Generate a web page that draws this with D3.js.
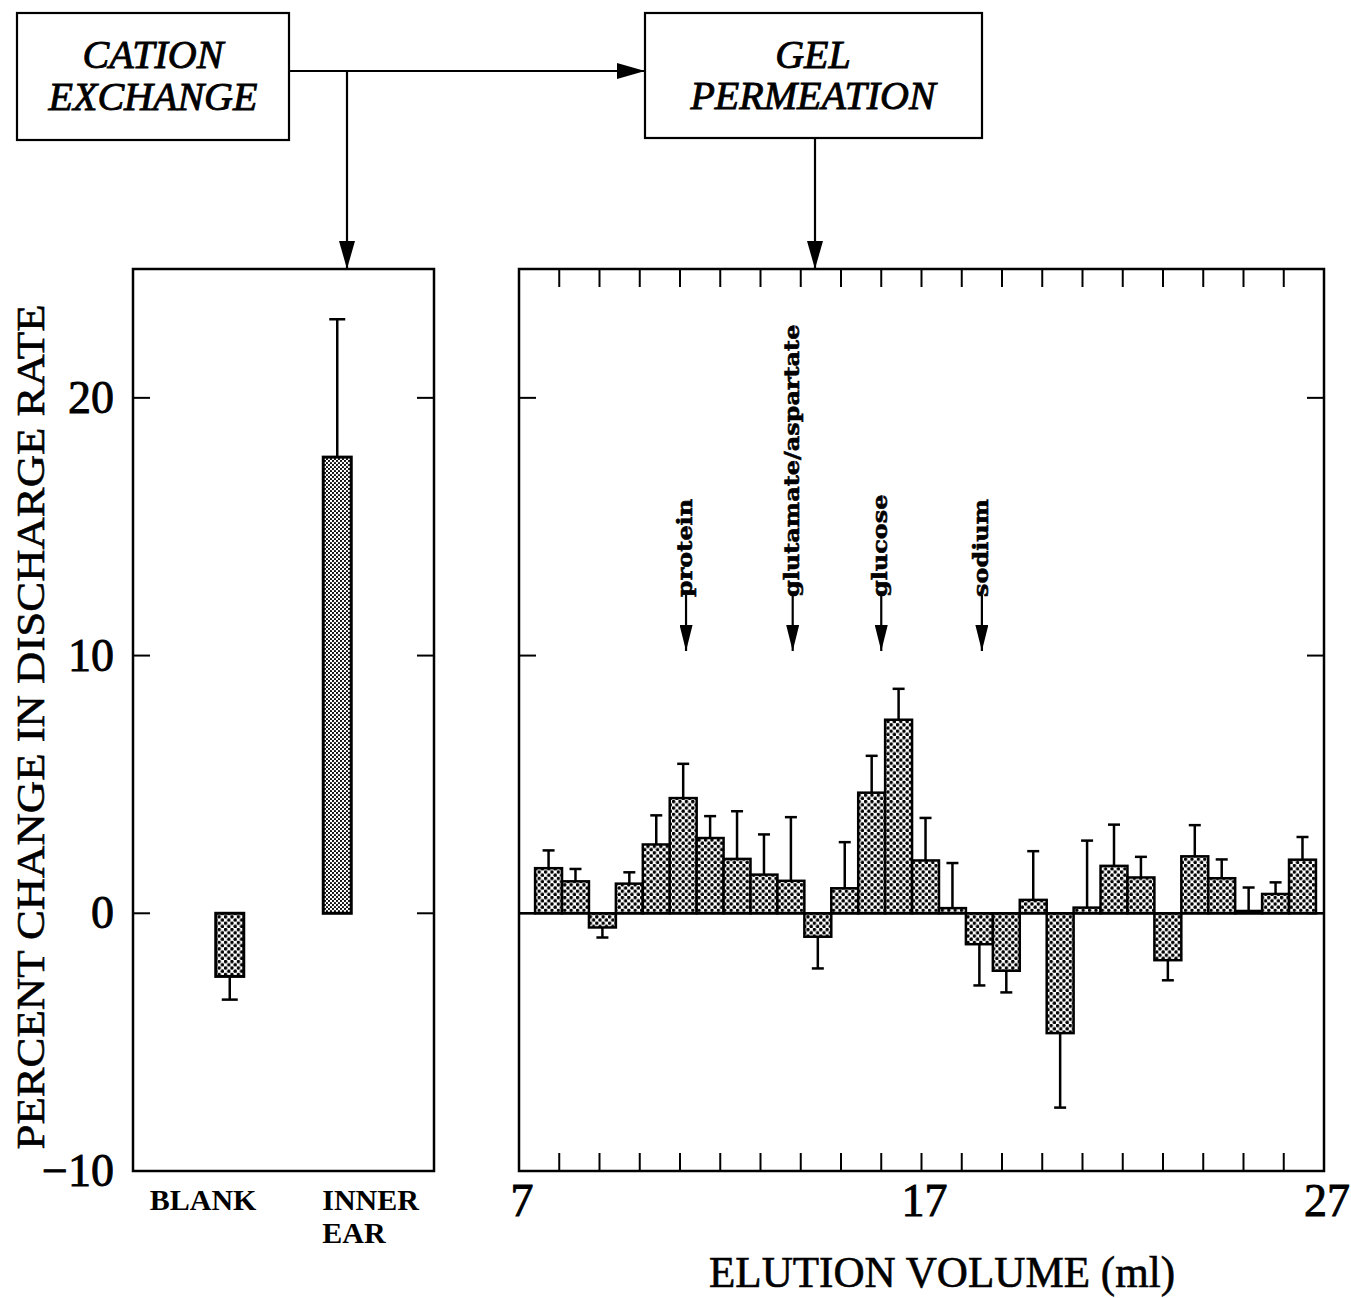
<!DOCTYPE html>
<html>
<head>
<meta charset="utf-8">
<script src="https://cdn.jsdelivr.net/npm/d3@7"></script>
<style>
  body { margin: 0; background: #fff; }
</style>
</head>
<body>
<div id="chart"></div>
<script>
// cation exchange panel
const groups = ["BLANK", "INNER EAR"];
const groupMeans = [-2.45, 17.7];
const groupErrors = [0.9, 5.35];

// gel permeation fractions (0.67 ml each)
const fractions = d3.range(1, 30);
const fractionMeans = [1.75, 1.24, -0.55, 1.15, 2.67, 4.47, 2.92, 2.11, 1.5, 1.26,
  -0.91, 0.97, 4.68, 7.51, 2.05, 0.2, -1.2, -2.23, 0.52, -4.65,
  0.22, 1.84, 1.39, -1.82, 2.21, 1.36, 0.09, 0.75, 2.08];
const fractionErrors = [0.69, 0.48, 0.39, 0.44, 1.13, 1.33, 0.85, 1.85, 1.56, 2.47,
  1.23, 1.79, 1.43, 1.2, 1.65, 1.75, 1.6, 0.84, 1.89, 2.89,
  2.6, 1.6, 0.8, 0.78, 1.21, 0.73, 0.91, 0.45, 0.88];
const firstVolume = 7.4;
const lastVolume = 26.8;

// elution markers
const markers = ["protein", "glutamate/aspartate", "glucose", "sodium"];
const markerVolumes = [11.15, 13.8, 16.0, 18.5];

const yTicks = [20, 10, 0, -10];
const xTickLabels = [7, 17, 27];
const volumeTicks = d3.range(8, 27);

const width = 1351;
const height = 1298;
const plotTop = 269, plotBottom = 1171;

const svg = d3.select("#chart")
    .append("svg")
    .attr("width", width)
    .attr("height", height);

const defs = svg.append("defs");

// dotted fills
const coarse = defs.append("pattern")
    .attr("id", "dots")
    .attr("patternUnits", "userSpaceOnUse")
    .attr("width", 6.4).attr("height", 6.4);
coarse.append("rect").attr("width", 6.4).attr("height", 6.4).attr("fill", "#fff");
coarse.append("circle").attr("cx", 1.6).attr("cy", 1.6).attr("r", 1.75);
coarse.append("circle").attr("cx", 4.8).attr("cy", 4.8).attr("r", 1.75);

const fine = defs.append("pattern")
    .attr("id", "dotsFine")
    .attr("patternUnits", "userSpaceOnUse")
    .attr("width", 4).attr("height", 4);
fine.append("rect").attr("width", 4).attr("height", 4).attr("fill", "#fff");
fine.append("circle").attr("cx", 1).attr("cy", 1).attr("r", 1.1);
fine.append("circle").attr("cx", 3).attr("cy", 3).attr("r", 1.1);

function arrowMarker(id, len, w) {
    defs.append("marker")
        .attr("id", id)
        .attr("markerUnits", "userSpaceOnUse")
        .attr("markerWidth", len)
        .attr("markerHeight", w)
        .attr("refX", len)
        .attr("refY", w / 2)
        .attr("orient", "auto")
        .append("path")
        .attr("d", `M0,0L${len},${w / 2}L0,${w}Z`)
        .attr("fill", "#000");
}
arrowMarker("arrow", 28, 16);
arrowMarker("arrowSmall", 26, 13);

// scales
const y = d3.scaleLinear().domain([-10, 25]).range([plotBottom, plotTop]);

const leftX0 = 133, leftX1 = 434;
const xCat = d3.scalePoint().domain(groups).range([leftX0, leftX1]).padding(0.9);

const rightX0 = 519, rightX1 = 1324;
const x = d3.scaleLinear().domain([7, 27]).range([rightX0, rightX1]);
const xFrac = d3.scaleBand()
    .domain(fractions)
    .range([x(firstVolume), x(lastVolume)])
    .padding(0);

const serif = "'Liberation Serif', 'Times New Roman', serif";

// ---- flow boxes ----
const boxes = svg.append("g")
    .attr("font-family", serif)
    .attr("font-style", "italic")
    .attr("font-size", 40)
    .attr("text-anchor", "middle")
    .attr("stroke-width", 0.9);

boxes.append("rect").attr("x", 17).attr("y", 13).attr("width", 272).attr("height", 127)
    .attr("fill", "none").attr("stroke", "#000").attr("stroke-width", 2.2);
boxes.append("text").attr("x", 153).attr("y", 68).attr("stroke", "#000").text("CATION");
boxes.append("text").attr("x", 153).attr("y", 110).attr("stroke", "#000").text("EXCHANGE");

boxes.append("rect").attr("x", 645).attr("y", 13).attr("width", 337).attr("height", 125)
    .attr("fill", "none").attr("stroke", "#000").attr("stroke-width", 2.2);
boxes.append("text").attr("x", 813).attr("y", 68).attr("stroke", "#000").text("GEL");
boxes.append("text").attr("x", 813).attr("y", 109).attr("stroke", "#000").text("PERMEATION");

const flow = svg.append("g").attr("stroke", "#000").attr("stroke-width", 2.2).attr("fill", "none");
flow.append("line").attr("x1", 289).attr("y1", 71).attr("x2", 645).attr("y2", 71)
    .attr("marker-end", "url(#arrow)");
flow.append("line").attr("x1", 347).attr("y1", 71).attr("x2", 347).attr("y2", plotTop)
    .attr("marker-end", "url(#arrow)");
flow.append("line").attr("x1", 815).attr("y1", 138).attr("x2", 815).attr("y2", plotTop)
    .attr("marker-end", "url(#arrow)");

// ---- left panel ----
const left = svg.append("g");

left.append("rect")
    .attr("x", leftX0).attr("y", plotTop)
    .attr("width", leftX1 - leftX0).attr("height", plotBottom - plotTop)
    .attr("fill", "none").attr("stroke", "#000").attr("stroke-width", 2.5);

left.append("g").selectAll("line")
    .data(yTicks.filter(d => d > -10))
    .join("line")
    .attr("x1", leftX0).attr("x2", leftX0 + 17)
    .attr("y1", d => y(d)).attr("y2", d => y(d))
    .attr("stroke", "#000").attr("stroke-width", 2);
left.append("g").selectAll("line")
    .data(yTicks.filter(d => d > -10))
    .join("line")
    .attr("x1", leftX1 - 17).attr("x2", leftX1)
    .attr("y1", d => y(d)).attr("y2", d => y(d))
    .attr("stroke", "#000").attr("stroke-width", 2);

left.append("g")
    .attr("font-family", serif)
    .attr("font-size", 46)
    .attr("text-anchor", "end")
    .attr("stroke", "#000")
    .attr("stroke-width", 0.9)
    .selectAll("text")
    .data(yTicks)
    .join("text")
    .attr("x", 114)
    .attr("y", d => y(d) + 15)
    .text(d => d < 0 ? "\u2212" + Math.abs(d) : d);

const groupData = groups.map((g, i) => ({ g, mean: groupMeans[i], err: groupErrors[i] }));
const barW = 28;

left.append("g").selectAll("line")
    .data(groupData)
    .join("line")
    .attr("x1", d => xCat(d.g)).attr("x2", d => xCat(d.g))
    .attr("y1", d => y(d.mean))
    .attr("y2", d => y(d.mean + Math.sign(d.mean) * d.err))
    .attr("stroke", "#000").attr("stroke-width", 2.5);
left.append("g").selectAll("line")
    .data(groupData)
    .join("line")
    .attr("x1", d => xCat(d.g) - 8).attr("x2", d => xCat(d.g) + 8)
    .attr("y1", d => y(d.mean + Math.sign(d.mean) * d.err))
    .attr("y2", d => y(d.mean + Math.sign(d.mean) * d.err))
    .attr("stroke", "#000").attr("stroke-width", 2.5);

left.append("g").selectAll("rect")
    .data(groupData)
    .join("rect")
    .attr("x", d => xCat(d.g) - barW / 2)
    .attr("width", barW)
    .attr("y", d => y(Math.max(0, d.mean)))
    .attr("height", d => Math.abs(y(d.mean) - y(0)))
    .attr("fill", (d, i) => i === 0 ? "url(#dots)" : "url(#dotsFine)")
    .attr("stroke", "#000").attr("stroke-width", 3);

const catLabels = left.append("g")
    .attr("font-family", serif)
    .attr("font-weight", "bold")
    .attr("font-size", 30);
catLabels.append("text").attr("x", xCat("BLANK") - 80).attr("y", 1210).text("BLANK");
catLabels.append("text").attr("x", xCat("INNER EAR") - 15).attr("y", 1210).text("INNER");
catLabels.append("text").attr("x", xCat("INNER EAR") - 15).attr("y", 1243).text("EAR");

svg.append("text")
    .attr("transform", "translate(44,727) rotate(-90)")
    .attr("text-anchor", "middle")
    .attr("font-family", serif)
    .attr("font-size", 41)
    .attr("stroke", "#000")
    .attr("stroke-width", 0.6)
    .attr("textLength", 845)
    .attr("lengthAdjust", "spacingAndGlyphs")
    .text("PERCENT CHANGE IN DISCHARGE RATE");

// ---- right panel ----
const right = svg.append("g");

right.append("rect")
    .attr("x", rightX0).attr("y", plotTop)
    .attr("width", rightX1 - rightX0).attr("height", plotBottom - plotTop)
    .attr("fill", "none").attr("stroke", "#000").attr("stroke-width", 2.5);

right.append("g").selectAll("line")
    .data(volumeTicks)
    .join("line")
    .attr("x1", d => x(d)).attr("x2", d => x(d))
    .attr("y1", plotTop).attr("y2", plotTop + 18)
    .attr("stroke", "#000").attr("stroke-width", 2);
right.append("g").selectAll("line")
    .data(volumeTicks)
    .join("line")
    .attr("x1", d => x(d)).attr("x2", d => x(d))
    .attr("y1", plotBottom - 18).attr("y2", plotBottom)
    .attr("stroke", "#000").attr("stroke-width", 2);
right.append("g").selectAll("line")
    .data(yTicks.filter(d => d > -10))
    .join("line")
    .attr("x1", rightX0).attr("x2", rightX0 + 17)
    .attr("y1", d => y(d)).attr("y2", d => y(d))
    .attr("stroke", "#000").attr("stroke-width", 2);
right.append("g").selectAll("line")
    .data(yTicks.filter(d => d > -10))
    .join("line")
    .attr("x1", rightX1 - 17).attr("x2", rightX1)
    .attr("y1", d => y(d)).attr("y2", d => y(d))
    .attr("stroke", "#000").attr("stroke-width", 2);

right.append("g")
    .attr("font-family", serif)
    .attr("font-size", 46)
    .attr("text-anchor", "middle")
    .attr("stroke", "#000")
    .attr("stroke-width", 0.9)
    .selectAll("text")
    .data(xTickLabels)
    .join("text")
    .attr("x", d => x(d) + 3)
    .attr("y", 1216)
    .text(d => d);

svg.append("text")
    .attr("x", 942).attr("y", 1287)
    .attr("text-anchor", "middle")
    .attr("font-family", serif)
    .attr("font-size", 44)
    .attr("stroke", "#000")
    .attr("stroke-width", 0.6)
    .attr("textLength", 466)
    .attr("lengthAdjust", "spacingAndGlyphs")
    .text("ELUTION VOLUME (ml)");

const fracData = fractions.map((f, i) => ({ f, mean: fractionMeans[i], err: fractionErrors[i] }));

right.append("g").selectAll("line")
    .data(fracData)
    .join("line")
    .attr("x1", d => xFrac(d.f) + xFrac.bandwidth() / 2)
    .attr("x2", d => xFrac(d.f) + xFrac.bandwidth() / 2)
    .attr("y1", d => y(d.mean))
    .attr("y2", d => y(d.mean + (d.mean < 0 ? -1 : 1) * d.err))
    .attr("stroke", "#000").attr("stroke-width", 2.5);
right.append("g").selectAll("line")
    .data(fracData)
    .join("line")
    .attr("x1", d => xFrac(d.f) + xFrac.bandwidth() / 2 - 6)
    .attr("x2", d => xFrac(d.f) + xFrac.bandwidth() / 2 + 6)
    .attr("y1", d => y(d.mean + (d.mean < 0 ? -1 : 1) * d.err))
    .attr("y2", d => y(d.mean + (d.mean < 0 ? -1 : 1) * d.err))
    .attr("stroke", "#000").attr("stroke-width", 2.5);

right.append("g").selectAll("rect")
    .data(fracData)
    .join("rect")
    .attr("x", d => xFrac(d.f))
    .attr("width", xFrac.bandwidth())
    .attr("y", d => y(Math.max(0, d.mean)))
    .attr("height", d => Math.abs(y(d.mean) - y(0)))
    .attr("fill", "url(#dots)")
    .attr("stroke", "#000").attr("stroke-width", 2.5);

right.append("line")
    .attr("x1", rightX0).attr("x2", rightX1)
    .attr("y1", y(0)).attr("y2", y(0))
    .attr("stroke", "#000").attr("stroke-width", 2.5);

// marker arrows and labels
const markerData = markers.map((m, i) => ({ m, v: markerVolumes[i] }));
const textStart = 597;

right.append("g").selectAll("line")
    .data(markerData)
    .join("line")
    .attr("x1", d => x(d.v)).attr("x2", d => x(d.v))
    .attr("y1", textStart - 2).attr("y2", 651)
    .attr("stroke", "#000").attr("stroke-width", 2.2)
    .attr("marker-end", "url(#arrowSmall)");

right.append("g")
    .attr("font-family", "'DejaVu Serif', serif")
    .attr("font-weight", "bold")
    .attr("font-size", 21)
    .attr("stroke", "#000")
    .attr("stroke-width", 0.6)
    .selectAll("text")
    .data(markerData)
    .join("text")
    .attr("transform", d => `translate(${x(d.v) + 6},${textStart}) rotate(-90)`)
    .text(d => d.m)
    .each(function () {
        const len = this.getComputedTextLength();
        d3.select(this)
            .attr("textLength", len * 1.14)
            .attr("lengthAdjust", "spacingAndGlyphs");
    });
</script>
</body>
</html>
